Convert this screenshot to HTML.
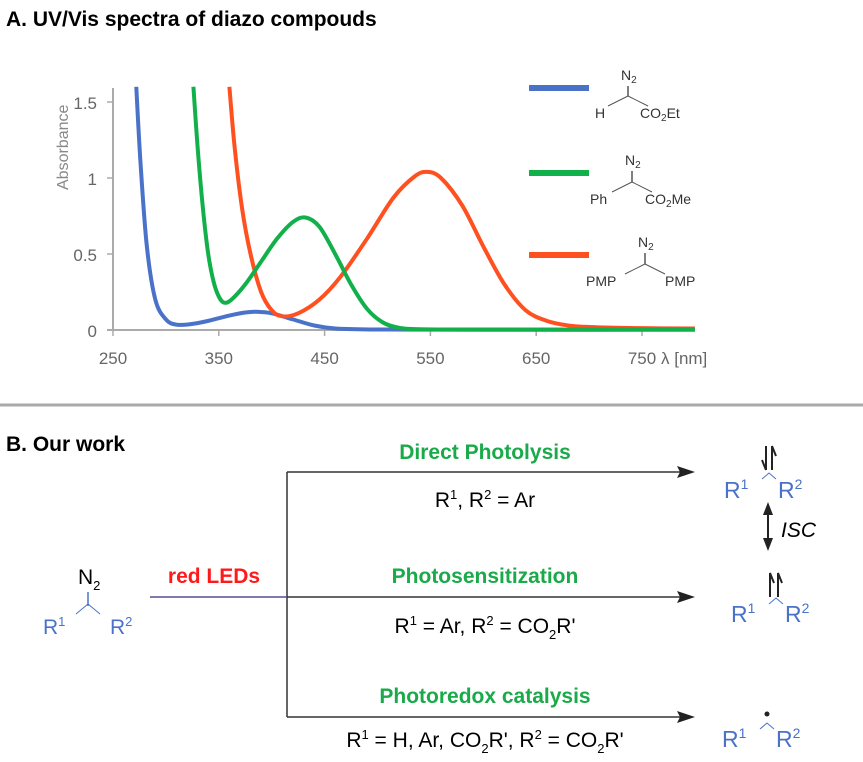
<!DOCTYPE html>
<html><head><meta charset="utf-8"><style>
html,body{margin:0;padding:0;background:#fff;}
svg{display:block;font-family:"Liberation Sans",Arial,sans-serif;}
</style></head><body>
<svg id="fig" width="863" height="762" viewBox="0 0 863 762">
<text x="6" y="26" font-size="21" font-weight="bold" fill="#000">A. UV/Vis spectra of diazo compouds</text>
<g id="chart"></g>
<g font-size="14" fill="#333">
 <line x1="529" y1="88" x2="589" y2="88" stroke="#4a72c8" stroke-width="6"/>
 <g>
  <text x="621" y="80">N<tspan font-size="10" dy="3">2</tspan></text>
  <line x1="628" y1="86" x2="628" y2="96" stroke="#555" stroke-width="1.5"/>
  <line x1="608" y1="106" x2="628" y2="96" stroke="#555"/><line x1="628" y1="96" x2="648" y2="106" stroke="#555"/>
  <text x="595" y="118">H</text><text x="640" y="118">CO<tspan font-size="10" dy="3">2</tspan><tspan dy="-3">Et</tspan></text>
 </g>
 <line x1="529" y1="173" x2="589" y2="173" stroke="#12b04a" stroke-width="6"/>
 <g>
  <text x="625" y="165">N<tspan font-size="10" dy="3">2</tspan></text>
  <line x1="632" y1="171" x2="632" y2="182" stroke="#555" stroke-width="1.5"/>
  <line x1="612" y1="192" x2="632" y2="182" stroke="#555"/><line x1="632" y1="182" x2="652" y2="192" stroke="#555"/>
  <text x="590" y="204">Ph</text><text x="645" y="204">CO<tspan font-size="10" dy="3">2</tspan><tspan dy="-3">Me</tspan></text>
 </g>
 <line x1="529" y1="255" x2="589" y2="255" stroke="#ff5020" stroke-width="6"/>
 <g>
  <text x="638" y="247">N<tspan font-size="10" dy="3">2</tspan></text>
  <line x1="645" y1="253" x2="645" y2="264" stroke="#555" stroke-width="1.5"/>
  <line x1="625" y1="274" x2="645" y2="264" stroke="#555"/><line x1="645" y1="264" x2="665" y2="274" stroke="#555"/>
  <text x="586" y="286">PMP</text><text x="665" y="286">PMP</text>
 </g>
</g>
<line x1="0" y1="405" x2="863" y2="405" stroke="#aaa" stroke-width="3"/>

<g font-size="21">
 <text x="6" y="451" font-weight="bold" font-size="21">B. Our work</text>
 <line x1="287" y1="472" x2="287" y2="717" stroke="#333" stroke-width="1.5"/>
 <line x1="287" y1="472" x2="680" y2="472" stroke="#333" stroke-width="1.5"/>
 <polygon points="695,472 677,466 680,472 677,478" fill="#222"/>
 <line x1="150" y1="597" x2="287" y2="597" stroke="#5a4a90" stroke-width="1.5"/>
 <line x1="287" y1="597" x2="680" y2="597" stroke="#333" stroke-width="1.5"/>
 <polygon points="695,597 677,591 680,597 677,603" fill="#222"/>
 <line x1="287" y1="717" x2="680" y2="717" stroke="#333" stroke-width="1.5"/>
 <polygon points="695,717 677,711 680,717 677,723" fill="#222"/>

 <text x="485" y="459" text-anchor="middle" font-weight="bold" fill="#1aaa4a">Direct Photolysis</text>
 <text x="485" y="507" text-anchor="middle">R<tspan font-size="13" dy="-8">1</tspan><tspan dy="8">, R</tspan><tspan font-size="13" dy="-8">2</tspan><tspan dy="8"> = Ar</tspan></text>
 <text x="214" y="583" text-anchor="middle" font-weight="bold" fill="#ff1a1a">red LEDs</text>
 <text x="485" y="583" text-anchor="middle" font-weight="bold" fill="#1aaa4a">Photosensitization</text>
 <text x="485" y="633" text-anchor="middle">R<tspan font-size="13" dy="-8">1</tspan><tspan dy="8"> = Ar, R</tspan><tspan font-size="13" dy="-8">2</tspan><tspan dy="8"> = CO</tspan><tspan font-size="13" dy="6">2</tspan><tspan dy="-6">R'</tspan></text>
 <text x="485" y="703" text-anchor="middle" font-weight="bold" fill="#1aaa4a">Photoredox catalysis</text>
 <text x="485" y="747" text-anchor="middle">R<tspan font-size="13" dy="-8">1</tspan><tspan dy="8"> = H, Ar, CO</tspan><tspan font-size="13" dy="6">2</tspan><tspan dy="-6">R', R</tspan><tspan font-size="13" dy="-8">2</tspan><tspan dy="8"> = CO</tspan><tspan font-size="13" dy="6">2</tspan><tspan dy="-6">R'</tspan></text>

 <g>
  <text x="78" y="584">N<tspan font-size="13" dy="6">2</tspan></text>
  <line x1="88" y1="592" x2="88" y2="606" stroke="#4a72c8" stroke-width="1.5"/>
  <line x1="76" y1="614" x2="88" y2="604" stroke="#4a72c8"/><line x1="88" y1="604" x2="100" y2="614" stroke="#4a72c8"/>
  <text x="43" y="634" fill="#4a72c8">R<tspan font-size="13" dy="-8">1</tspan></text>
  <text x="110" y="634" fill="#4a72c8">R<tspan font-size="13" dy="-8">2</tspan></text>
 </g>
 <g fill="#4a72c8">
  <text x="724" y="498" font-size="23">R<tspan font-size="14" dy="-9">1</tspan></text>
  <text x="778" y="498" font-size="23">R<tspan font-size="14" dy="-9">2</tspan></text>
  <path d="M762,479 l7,-6 l7,6" stroke="#4a72c8" fill="none"/>
  <path d="M766,446 V470 M766,470 l-4,-10 M772,470 V446 M772,446 l4,10" stroke="#222" stroke-width="2" fill="none"/>
 </g>
 <g>
  <line x1="768" y1="507" x2="768" y2="545" stroke="#222" stroke-width="2"/>
  <polygon points="768,502 763,515 773,515" fill="#222"/><polygon points="768,551 763,538 773,538" fill="#222"/>
  <text x="781" y="537" font-style="italic">ISC</text>
 </g>
 <g fill="#4a72c8">
  <text x="731" y="622" font-size="23">R<tspan font-size="14" dy="-9">1</tspan></text>
  <text x="785" y="622" font-size="23">R<tspan font-size="14" dy="-9">2</tspan></text>
  <path d="M769,604 l7,-6 l7,6" stroke="#4a72c8" fill="none"/>
  <path d="M770,597 V573 l4,10 M778,597 V573 l4,10" stroke="#222" stroke-width="2" fill="none"/>
 </g>
 <g fill="#4a72c8">
  <text x="722" y="747" font-size="23">R<tspan font-size="14" dy="-9">1</tspan></text>
  <text x="776" y="747" font-size="23">R<tspan font-size="14" dy="-9">2</tspan></text>
  <path d="M760,729 l7,-6 l7,6" stroke="#4a72c8" fill="none"/>
  <circle cx="767" cy="714" r="2.5" fill="#222"/>
 </g>
</g>
</svg>
<script>
const xTicks=[250,350,450,550,650,750];
const yTicks=[0,0.5,1,1.5];
const yTickLabels=["0","0.5","1","1.5"];
const blueWl=[272,276,282,290,300,310,325,340,360,375,385,400,420,440,460,500,600,800];
const blueAbs=[1.6,1.1,0.55,0.2,0.07,0.035,0.04,0.06,0.095,0.115,0.12,0.11,0.07,0.03,0.01,0.003,0.002,0.002];
const greenWl=[326,330,335,340,345,350,355,362,375,390,405,420,432,445,460,475,490,505,520,540,600,800];
const greenAbs=[1.6,1.2,0.8,0.5,0.32,0.22,0.18,0.2,0.3,0.45,0.6,0.71,0.74,0.68,0.5,0.3,0.14,0.05,0.015,0.005,0.003,0.003];
const redWl=[360,365,372,380,390,400,410,425,445,465,490,515,535,547,560,580,600,620,640,660,680,700,750,800];
const redAbs=[1.6,1.2,0.8,0.5,0.25,0.13,0.09,0.11,0.2,0.35,0.6,0.87,1.01,1.04,1.0,0.82,0.55,0.3,0.13,0.06,0.03,0.02,0.012,0.01];
const NS='http://www.w3.org/2000/svg';
const g=document.getElementById('chart');
const X0=113,X1=691,Y0=330;
function sx(v){return X0+(v-250)*1.058;}
function sy(v){return Y0-v*152;}
function mk(t,a){const e=document.createElementNS(NS,t);for(const k in a)e.setAttribute(k,a[k]);g.appendChild(e);return e;}
const ax=mk('line',{x1:X0,y1:88,x2:X0,y2:Y0,stroke:'#aaa','stroke-width':2});


const bx=mk('line',{x1:X0-6,y1:Y0,x2:X1,y2:Y0,stroke:'#aaa','stroke-width':2});


xTicks.forEach(v=>{
 const t=mk('line',{x1:sx(v),y1:Y0,x2:sx(v),y2:Y0+6,stroke:'#aaa','stroke-width':1.5});
 
 
 const l=mk('text',{x:sx(v),y:Y0+34,'text-anchor':'middle','font-size':17,fill:'#666'});
 l.textContent=v;
 
 
});
yTicks.forEach((v,i)=>{
 const l=mk('text',{x:X0-16,y:sy(v)+7,'text-anchor':'end','font-size':17,fill:'#666'});
 l.textContent=yTickLabels[i];
 
 
 const t=mk('line',{x1:X0-6,y1:sy(v),x2:X0,y2:sy(v),stroke:'#aaa','stroke-width':1.5});
 
 
});
const yt=mk('text',{x:0,y:0,'font-size':16,fill:'#888',transform:'translate(68,190) rotate(-90)'});
yt.textContent='Absorbance';


const xt=mk('text',{x:sx(750)+19,y:Y0+34,'font-size':17,fill:'#666'});
xt.textContent='λ [nm]';


function path(wl,ab){
 const p=wl.map((w,i)=>[sx(w),sy(ab[i])]);
 let d='M'+p[0][0]+','+p[0][1];
 for(let i=0;i<p.length-1;i++){
  const a=p[i-1]||p[i],b=p[i],c=p[i+1],e=p[i+2]||c;
  d+=' C'+(b[0]+(c[0]-a[0])/6)+','+(b[1]+(c[1]-a[1])/6)+' '+(c[0]-(e[0]-b[0])/6)+','+(c[1]-(e[1]-b[1])/6)+' '+c[0]+','+c[1];
 }
 return d;
}
const cb=mk('path',{d:path(blueWl,blueAbs),fill:'none',stroke:'#4a72c8','stroke-width':4});


const cr=mk('path',{d:path(redWl,redAbs),fill:'none',stroke:'#ff5020','stroke-width':4});


const cg=mk('path',{d:path(greenWl,greenAbs),fill:'none',stroke:'#12b04a','stroke-width':4});


</script>
</body></html>
